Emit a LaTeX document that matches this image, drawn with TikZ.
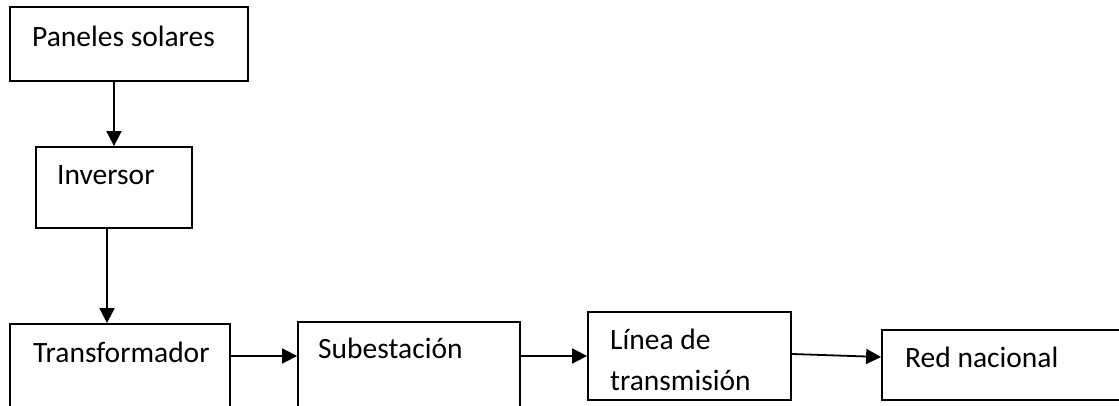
\documentclass[tikz,border=0pt]{standalone}
\usepackage{fontspec}
\setmainfont{Carlito}
\usetikzlibrary{arrows.meta}

\begin{document}
\begin{tikzpicture}[x=1pt,y=1pt]
\clip (0,0) rectangle (1119,406);
\begin{scope}
\tikzstyle{blk}=[draw, shape=rectangle, line width=1.8pt, inner sep=0pt];
\tikzstyle{txt}=[anchor=base west, inner sep=0pt, font=\fontsize{29.5}{41}\selectfont];
\tikzstyle{arr}=[line width=1.8pt, -{Triangle[length=15pt,width=15pt]}];

% column on the left
\draw (129,362) node[blk, minimum width=238pt, minimum height=74pt] (pan) {};
\draw (32,359) node[txt] (panT) {Paneles solares};
\draw (114,218.5) node[blk, minimum width=156pt, minimum height=81pt] (inv) {};
\draw (57,221) node[txt] (invT) {Inversor};

% bottom row
\draw (120,14) node[blk, minimum width=220pt, minimum height=136pt] (tra) {};
\draw (33,43) node[txt] (traT) {Transformador};
\draw (409,16) node[blk, minimum width=222pt, minimum height=136pt] (sub) {};
\draw (318,47) node[txt] (subT) {Subestación};
\draw (689.5,50) node[blk, minimum width=203pt, minimum height=88pt] (lin) {};
\draw (610,56) node[txt] (linT1) {Línea de};
\draw (610,15) node[txt] (linT2) {transmisión};
\draw (1003.5,41) node[blk, minimum width=243pt, minimum height=70pt] (red) {};
\draw (905,38) node[txt] (redT) {Red nacional};

\draw[arr] (inv.north |- pan.south) -- (inv.north);
\draw[arr] ([xshift=-7pt]inv.south) -- ([xshift=-7pt]inv.south |- tra.north);
\draw[arr] (tra.east |- lin.west) -- (sub.west |- lin.west);
\draw[arr] (sub.east |- lin.west) -- (lin.west);
\draw[arr] ([yshift=2pt]lin.east) -- ([yshift=8pt]red.west);
\end{scope}
\end{tikzpicture}
\end{document}
